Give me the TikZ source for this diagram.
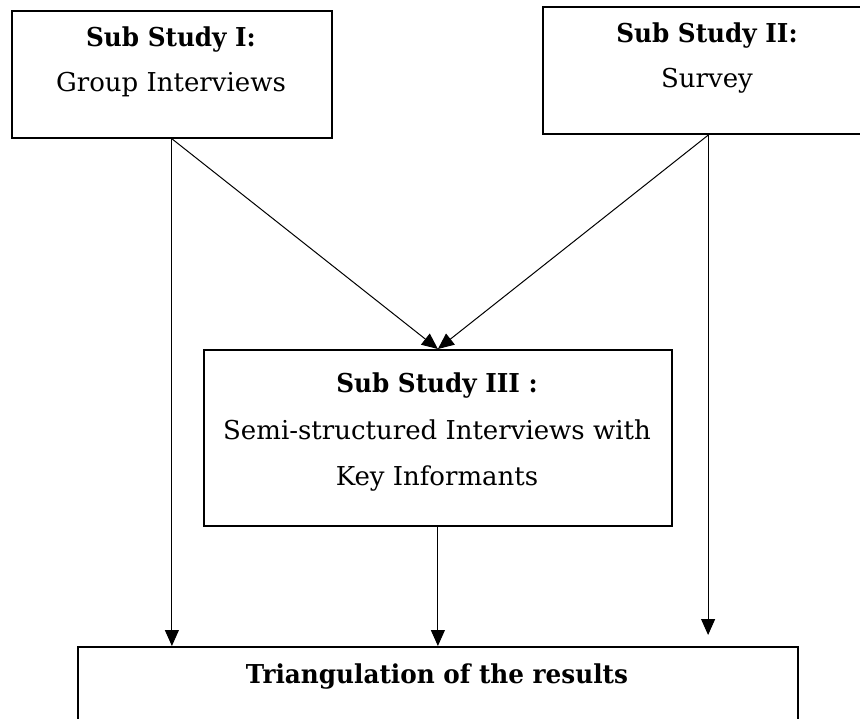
\documentclass[tikz,border=0pt]{standalone}
\usepackage{fontspec}
\setmainfont{DejaVu Serif}[BoldFeatures={FakeStretch=0.95}]
\usetikzlibrary{arrows.meta}
\begin{document}
\begin{tikzpicture}[x=1pt,y=-1pt,
  box/.style={draw=black,line width=1.8pt,anchor=north west,inner sep=0pt,
    minimum width=#1},
  txt/.style={anchor=base,inner sep=0pt,font=\fontsize{26}{31}\selectfont},
  ttl/.style={txt,font=\fontsize{26}{31}\selectfont\bfseries},
  arr/.style={draw=black,line width=1pt,
    -{Triangle[length=16pt,width=14pt]}}]
\useasboundingbox (0,0) rectangle (860,719);
\clip (0,0) rectangle (860,719);

% study boxes
\node[box=320pt,minimum height=127pt] (s1) at (11,10) {};
\node[box=330pt,minimum height=127pt,line width=2.2pt] (s2) at (542,6) {};
\node[box=468pt,minimum height=176pt] (s3) at (203,349) {};
\node[box=720pt,minimum height=130pt] (tri) at (77,646) {};

% box texts
\node[ttl] (s1a) at (171,47) {Sub Study I:};
\node[txt] (s1b) at (171,92) {Group Interviews};
\node[ttl] (s2a) at (707,43) {Sub Study II:};
\node[txt] (s2b) at (707,88) {Survey};
\node[ttl] (s3a) at (437,393) {Sub Study III :};
\node[txt] (s3b) at (437,439) {Semi-structured Interviews with};
\node[txt] (s3c) at (437,485) {Key Informants};
\node[ttl] (tria) at (437,683) {Triangulation of the results};

% connectors
\draw[arr] (s1.south) -- (s3.north);
\draw[arr] (s2.south) -- (s3.north);
\draw[arr] (s1.south) -- (s1.south |- tri.north);
\draw[arr] (s3.south) -- (tri.north);
\draw[arr,shorten >=11pt] (s2.south) -- (s2.south |- tri.north);
\end{tikzpicture}
\end{document}
